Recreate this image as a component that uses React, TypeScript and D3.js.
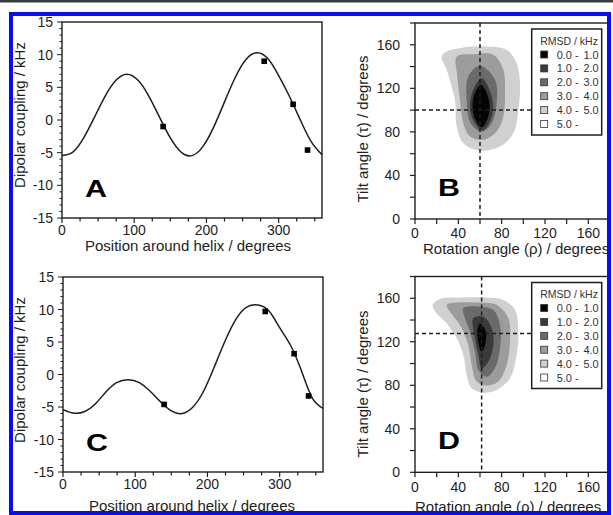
import React from "react";
import * as d3 from "d3";

// ---------- data ----------
const curveAngles = [0, 15, 30, 45, 60, 75, 90, 105, 120, 135, 150, 165, 180, 195, 210, 225, 240, 255, 270, 285, 300, 315, 330, 345, 360];
const curveA = [-5.45, -4.93, -2.75, 0.43, 3.7, 6.11, 7.0, 6.11, 3.7, 0.43, -2.75, -4.93, -5.45, -4.08, -1.1, 2.77, 6.55, 9.3, 10.3, 9.4, 6.8, 3.6, 0.0, -3.3, -5.3];
const curveC = [-5.4, -5.95, -5.7, -4.5, -2.6, -1.2, -0.8, -1.2, -2.5, -4.2, -5.6, -6.0, -5.0, -2.5, 1.3, 5.3, 8.6, 10.4, 10.7, 9.8, 7.2, 4.5, 0.6, -3.6, -5.2];
const pointAngles = [140, 280, 320, 340];
const pointsA = [-1.0, 9.0, 2.4, -4.6];
const pointsC = [-4.6, 9.7, 3.2, -3.3];

const couplingTicks = [-15, -10, -5, 0, 5, 10, 15];
const positionTicks = [0, 100, 200, 300];
const angleTicks = [0, 40, 80, 120, 160];

const levelLo = ["0.0 -", "1.0 -", "2.0 -", "3.0 -", "4.0 -", "5.0 -"];
const levelHi = ["1.0", "2.0", "3.0", "4.0", "5.0", ""];
const levelColors = ["#050505", "#3a3a3a", "#6a6a6a", "#9c9c9c", "#d0d0d0", "#ffffff"];

// contour regions (rho, tau) for levels 4-5, 3-4, 2-3, 1-2, 0-1
const contourB4: [number, number][] = [[24.6, 149.2], [29.2, 153.9], [41.5, 156.9], [63.1, 158.5], [84.6, 155.4], [93.8, 143.2], [96.9, 124.8], [95.4, 100.2], [90.8, 78.8], [78.5, 66.5], [60, 62.8], [44.6, 69.6], [38.5, 84.9], [36.9, 109.4], [33.8, 121.7], [29.2, 137.0]];
const contourB3: [number, number][] = [[38.5, 149.2], [53.8, 151.4], [72.3, 150.8], [81.5, 137.0], [83.1, 115.6], [81.5, 94.1], [75.4, 80.3], [63.1, 72.6], [50.8, 75.7], [44.6, 88.0], [41.5, 109.4], [39.1, 130.9]];
const contourB2: [number, number][] = [[60, 140.7], [73.8, 127.8], [75.4, 106.4], [70.8, 88.0], [61.5, 80.3], [51.4, 88.0], [47.7, 109.4], [49.2, 130.9]];
const contourB1: [number, number][] = [[61.5, 129.3], [70.8, 112.5], [71.4, 95.6], [62.2, 81.2], [52.3, 94.1], [51.7, 112.5]];
const contourB0: [number, number][] = [[60.9, 123.2], [68.3, 109.4], [67.7, 94.1], [61.5, 84.3], [54.2, 95.6], [54.2, 112.5]];

const contourD4: [number, number][] = [[16.3, 153.8], [23.1, 159.4], [41.5, 160.6], [66.2, 160.6], [81.5, 158.5], [92.3, 149.2], [95.4, 129.3], [93.8, 107.8], [87.7, 86.4], [75.4, 75.7], [63.1, 73.2], [52.3, 77.2], [47.7, 89.5], [44.6, 107.8], [38.5, 123.2], [29.2, 137.0], [20.0, 146.2]];
const contourD3: [number, number][] = [[29.2, 153.8], [38.5, 156.0], [60, 156.0], [75.4, 153.8], [86.2, 141.6], [87.7, 120.1], [84.6, 98.7], [76.9, 83.4], [66.2, 79.7], [56.9, 83.4], [52.3, 98.7], [49.2, 117.1], [41.5, 135.4], [32.3, 147.7]];
const contourD2: [number, number][] = [[44.6, 150.8], [60, 152.3], [72.3, 149.2], [78.5, 135.4], [78.5, 114.0], [73.8, 95.6], [66.2, 87.9], [58.5, 94.1], [55.4, 111.0], [50.8, 129.3], [46.2, 141.6]];
const contourD1: [number, number][] = [[53.8, 141.6], [63.1, 143.1], [70.8, 132.4], [72.3, 117.1], [67.7, 101.7], [61.5, 95.6], [58.5, 107.8], [55.4, 123.2]];
const contourD0: [number, number][] = [[60, 136.9], [65.4, 129.3], [64.6, 117.1], [61.5, 111], [58.5, 118.6], [57.5, 130.8]];

const crossB = [60, 100];
const crossD = [61.5, 127.5];

// ---------- drawing ----------
const FONT = "'Liberation Sans', Arial, Helvetica, sans-serif";
const INK = "#1e1e1e";

type LineProps = {
  left: number; right: number; top: number; bottom: number;
  curve: number[]; pts: number[]; letter: string;
  xLabelBase: number; xTitleY: number; xTitleX: number; yTitleCenter: number;
};

function LinePanel(p: LineProps) {
  const x = d3.scaleLinear().domain([0, 360]).range([p.left, p.right]);
  const y = d3.scaleLinear().domain([-15, 15]).range([p.bottom, p.top]);
  const line = d3.line<number>()
    .x((_, i) => x(curveAngles[i]))
    .y((d) => y(d))
    .curve(d3.curveNatural);
  const minorY = y.ticks(30);
  const minorX = d3.range(0, 351, 25);
  return (
    <g>
      <path d={line(p.curve) || ""} fill="none" stroke={INK} strokeWidth={1.5} />
      {p.pts.map((v, i) => (
        <rect key={i} x={x(pointAngles[i]) - 2.8} y={y(v) - 2.8} width={5.6} height={5.6} fill="#000" />
      ))}
      <rect x={p.left} y={p.top} width={p.right - p.left} height={p.bottom - p.top} fill="none" stroke={INK} strokeWidth={1.4} />
      {minorY.map((t) => (
        <line key={"my" + t} x1={p.left} x2={p.left - (t % 5 === 0 ? 5 : 2.5)} y1={y(t)} y2={y(t)} stroke={INK} strokeWidth={1} />
      ))}
      {minorX.map((t) => (
        <line key={"mx" + t} x1={x(t)} x2={x(t)} y1={p.bottom} y2={p.bottom + (t % 100 === 0 ? 5 : 3.5)} stroke={INK} strokeWidth={1.2} />
      ))}
      {couplingTicks.map((t) => (
        <text key={"ty" + t} x={p.left - 9} y={y(t) + 5} textAnchor="end" fontSize={14} fontFamily={FONT} fill={INK}>{t}</text>
      ))}
      {positionTicks.map((t) => (
        <text key={"tx" + t} x={x(t)} y={p.xLabelBase} textAnchor="middle" fontSize={14} fontFamily={FONT} fill={INK}>{t}</text>
      ))}
      <text x={p.xTitleX} y={p.xTitleY} textAnchor="middle" fontSize={15} fontFamily={FONT} fill={INK}>Position around helix / degrees</text>
      <text transform={`translate(25,${p.yTitleCenter}) rotate(-90)`} textAnchor="middle" fontSize={15} fontFamily={FONT} fill={INK}>Dipolar coupling / kHz</text>
      <text x={p.left + 23} y={p.bottom - 21} fontSize={23} fontWeight="bold" fontFamily={FONT} fill="#000" textLength={22} lengthAdjust="spacingAndGlyphs">{p.letter}</text>
    </g>
  );
}

type ContourProps = {
  left: number; right: number; top: number; bottom: number;
  regions: [number, number][][]; cross: number[]; letter: string;
  xLabelBase: number; xTitleY: number; xTitleX: number; yTitleCenter: number;
};

function ContourPanel(p: ContourProps) {
  const x = d3.scaleLinear().domain([0, 180]).range([p.left, p.right]);
  const y = d3.scaleLinear().domain([0, 180]).range([p.bottom, p.top]);
  const shape = d3.line<[number, number]>()
    .x((d) => x(d[0]))
    .y((d) => y(d[1]))
    .curve(d3.curveCatmullRomClosed.alpha(0.5));
  const fills = [levelColors[4], levelColors[3], levelColors[2], levelColors[1], levelColors[0]];
  const ticks = d3.range(0, 181, 20);
  const lgX = 531.7, lgY = p.top + 6, lgW = 70, lgH = 106;
  return (
    <g>
      {p.regions.map((r, i) => (
        <path key={i} d={shape(r) || ""} fill={fills[i]} stroke="none" />
      ))}
      <line x1={x(p.cross[0])} x2={x(p.cross[0])} y1={p.top} y2={p.bottom} stroke={INK} strokeWidth={1.5} strokeDasharray="4,3" />
      <line x1={p.left} x2={lgX} y1={y(p.cross[1])} y2={y(p.cross[1])} stroke={INK} strokeWidth={1.5} strokeDasharray="4,3" />
      <rect x={p.left} y={p.top} width={p.right - p.left} height={p.bottom - p.top} fill="none" stroke={INK} strokeWidth={1.4} />
      {ticks.map((t) => (
        <line key={"ty" + t} x1={p.left} x2={p.left - 5} y1={y(t)} y2={y(t)} stroke={INK} strokeWidth={1.2} />
      ))}
      {ticks.map((t) => (
        <line key={"tx" + t} x1={x(t)} x2={x(t)} y1={p.bottom} y2={p.bottom + 5} stroke={INK} strokeWidth={1.2} />
      ))}
      {angleTicks.map((t) => (
        <text key={"ly" + t} x={p.left - 15} y={y(t) + 5} textAnchor="end" fontSize={14} fontFamily={FONT} fill={INK}>{t}</text>
      ))}
      {angleTicks.map((t) => (
        <text key={"lx" + t} x={x(t)} y={p.xLabelBase} textAnchor="middle" fontSize={14} fontFamily={FONT} fill={INK}>{t}</text>
      ))}
      <text x={p.xTitleX} y={p.xTitleY} textAnchor="start" fontSize={15} fontFamily={FONT} fill={INK}>Rotation angle (ρ) / degrees</text>
      <text transform={`translate(368,${p.yTitleCenter}) rotate(-90)`} textAnchor="middle" fontSize={15} fontFamily={FONT} fill={INK}>Tilt angle (τ) / degrees</text>
      <text x={p.left + 23} y={p.bottom - 23} fontSize={23} fontWeight="bold" fontFamily={FONT} fill="#000" textLength={22} lengthAdjust="spacingAndGlyphs">{p.letter}</text>
      <g>
        <rect x={lgX} y={lgY} width={lgW} height={lgH} fill="#fff" stroke={INK} strokeWidth={1.5} />
        <text x={lgX + 8.5} y={lgY + 15.5} fontSize={10.5} fontFamily={FONT} fill="#333">RMSD / kHz</text>
        {levelLo.map((lo, i) => {
          const cy = lgY + 25.5 + i * 13.9;
          return (
            <g key={i}>
              <rect x={lgX + 9} y={cy - 3.5} width={7} height={7} fill={levelColors[i]} stroke="#333" strokeWidth={0.8} />
              <text x={lgX + 25} y={cy + 4} fontSize={11} fontFamily={FONT} fill="#333">{lo}</text>
              {levelHi[i] && (
                <text x={lgX + 67} y={cy + 4} textAnchor="end" fontSize={11} fontFamily={FONT} fill="#333">{levelHi[i]}</text>
              )}
            </g>
          );
        })}
      </g>
    </g>
  );
}

export default function App() {
  return (
    <div style={{ position: "fixed", left: 0, top: 0, width: 613, height: 515, background: "#fff" }}>
      <svg width={613} height={515} viewBox="0 0 613 515" style={{ display: "block" }}>
        <rect x={0} y={0} width={613} height={515} fill="#fff" />
        <LinePanel left={62} right={322} top={22} bottom={218} curve={curveA} pts={pointsA} letter="A"
          xLabelBase={235} xTitleY={251} xTitleX={188} yTitleCenter={115} />
        <LinePanel left={63} right={323} top={277} bottom={472} curve={curveC} pts={pointsC} letter="C"
          xLabelBase={489} xTitleY={511} xTitleX={192} yTitleCenter={370} />
        <ContourPanel left={415} right={610} top={23} bottom={219}
          regions={[contourB4, contourB3, contourB2, contourB1, contourB0]} cross={crossB} letter="B"
          xLabelBase={238} xTitleY={254} xTitleX={423} yTitleCenter={129} />
        <ContourPanel left={415} right={610} top={276.5} bottom={472.3}
          regions={[contourD4, contourD3, contourD2, contourD1, contourD0]} cross={crossD} letter="D"
          xLabelBase={492} xTitleY={512} xTitleX={415} yTitleCenter={384} />
        <rect x={0} y={0} width={613} height={2.5} fill="#3a3a3a" />
        <rect x={11} y={14} width={598} height={499} fill="none" stroke="#0a0aff" strokeWidth={4} />
      </svg>
    </div>
  );
}
